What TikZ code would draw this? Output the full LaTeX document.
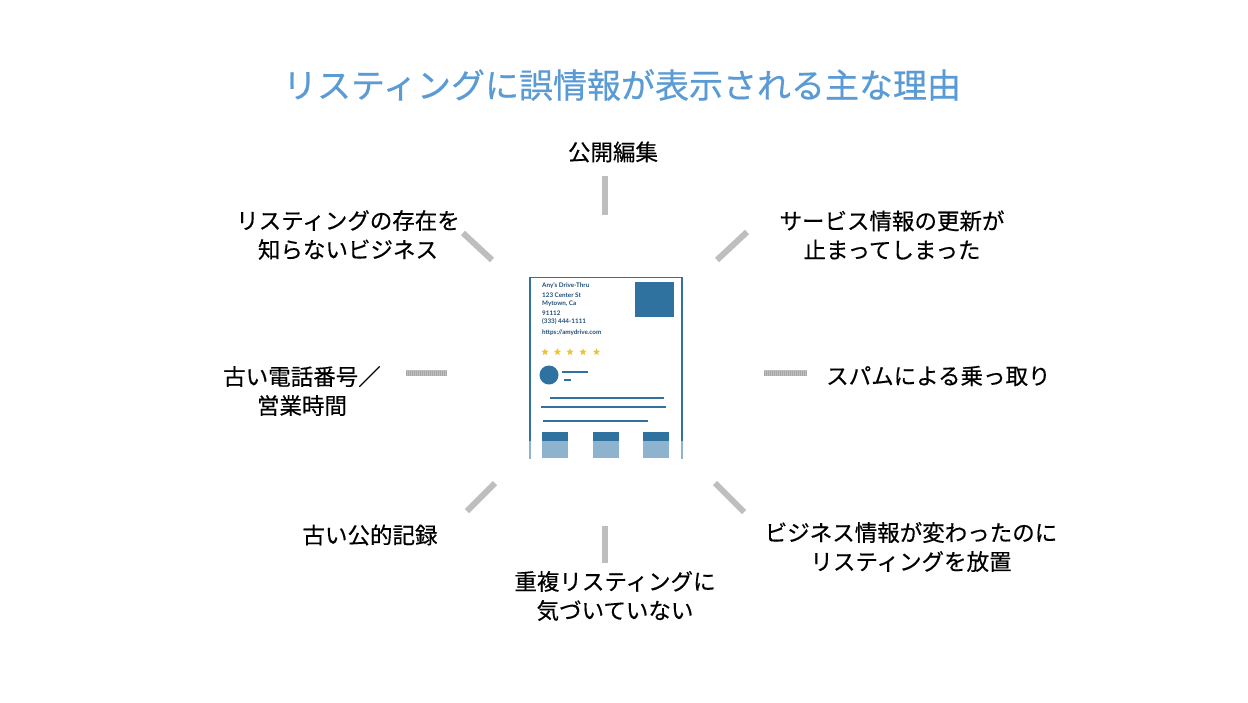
\documentclass[tikz,border=0pt]{standalone}
\usepackage{fontspec}
\setmainfont{Lato}
\newfontfamily\jp[FakeBold=0.35]{Noto Sans CJK JP}
\newfontfamily\jptitle[FakeBold=0.5]{Noto Sans CJK JP}
\usetikzlibrary{shapes.geometric}
\definecolor{titleblue}{HTML}{5B9BD5}
\definecolor{cardblue}{HTML}{2F72A0}
\definecolor{cardlight}{HTML}{8DB3CF}
\definecolor{cardtext}{HTML}{1F4E79}
\definecolor{stargold}{HTML}{F2C230}
\definecolor{spokegray}{HTML}{BEBEBE}
\definecolor{spokedark}{HTML}{A6A6A6}
\begin{document}
\begin{tikzpicture}[x=1pt,y=-1pt,
  lbl/.style={font=\jp\fontsize{22.5}{29}\selectfont, align=center, text=black, inner sep=0pt},
  spoke/.style={draw=spokegray, line width=6pt},
  hspoke/.style={draw=spokegray, line width=6pt},
  hatch/.style={draw=spokedark, line width=5pt, dash pattern=on 1pt off 1pt},
  ctext/.style={font=\bfseries\fontsize{6.3}{7}\selectfont, text=cardtext, anchor=west, inner sep=0pt},
  cline/.style={draw=cardblue, line width=1.4pt},
  cstar/.style={star, star points=5, star point ratio=2.3, fill=stargold, draw=none, minimum size=7.5pt, inner sep=0pt}]
\useasboundingbox[fill=white] (0,0) rectangle (1248,702);

% title
\node[font=\jptitle\fontsize{34}{40}\selectfont, text=titleblue, inner sep=0pt] (title) at (622,85) {リスティングに誤情報が表示される主な理由};

% card
\draw[cardblue, line width=1pt] (530,277) -- (682,277);
\draw[cardblue, line width=1.5pt] (530,277) -- (530,441);
\draw[cardblue, line width=2.6pt] (682,277) -- (682,441);
\draw[cardlight, line width=1.5pt] (530,441) -- (530,459);
\draw[cardlight, line width=2.6pt] (682,441) -- (682,459);
\node[fill=cardblue, minimum width=39pt, minimum height=35pt, inner sep=0pt] (photo) at (654.5,299.5) {};
\node[ctext] (t1) at (542,286) {Any's Drive-Thru};
\node[ctext] (t2) at (542,295) {123 Center St};
\node[ctext] (t3) at (542,304) {Mytown, Ca};
\node[ctext] (t4) at (542,313) {91112};
\node[ctext] (t5) at (542,322) {(333) 444-1111};
\node[ctext] (t6) at (542,333) {https://amydrive.com};
\foreach \i/\x in {1/545,2/557.5,3/570,4/583,5/596.5}
  \node[cstar] (s\i) at (\x,352) {};
\node[circle, fill=cardblue, minimum size=19pt, inner sep=0pt] (avatar) at (549,375) {};
\draw[cline, line width=1.2pt] (562,372) -- (588,372);
\draw[cline, line width=1.2pt] (564,380) -- (571,380);
\draw[cline] (550,398) -- (664,398);
\draw[cline] (541,407) -- (666,407);
\draw[cline] (543,421) -- (648,421);
\foreach \n/\x in {a/542,b/593,c/643}{
  \fill[cardblue] (\x,432) rectangle ++(26,9);
  \fill[cardlight] (\x,441) rectangle ++(26,17);
}

% spokes
\coordinate (n1) at (605,176); \coordinate (n2) at (605,215);
\coordinate (nw1) at (463,233); \coordinate (nw2) at (492,260);
\coordinate (ne1) at (747,232); \coordinate (ne2) at (717,260);
\coordinate (w1) at (406,373); \coordinate (w2) at (447,373);
\coordinate (e1) at (764,373); \coordinate (e2) at (807,373);
\coordinate (sw1) at (495,483); \coordinate (sw2) at (467,511);
\coordinate (se1) at (715,483); \coordinate (se2) at (744,512);
\coordinate (s1) at (605,526); \coordinate (s2) at (605,563);
\draw[spoke] (n1) -- (n2);
\draw[spoke] (nw1) -- (nw2);
\draw[spoke] (ne1) -- (ne2);
\draw[spoke] (sw1) -- (sw2);
\draw[spoke] (se1) -- (se2);
\draw[spoke] (s1) -- (s2);
\draw[hspoke] (w1) -- (w2);
\draw[hatch] (w1) -- (w2);
\draw[hspoke] (e1) -- (e2);
\draw[hatch] (e1) -- (e2);

% labels
\node[lbl] (top) at (613,152) {公開編集};
\node[lbl] (ul) at (348,235) {リスティングの存在を\\知らないビジネス};
\node[lbl] (ur) at (892,235) {サービス情報の更新が\\止まってしまった};
\node[lbl] (l) at (302,391) {古い電話番号／\\営業時間};
\node[lbl, anchor=west] (r) at (826,376) {スパムによる乗っ取り};
\node[lbl] (ll) at (370,535) {古い公的記録};
\node[lbl] (lr) at (911,547) {ビジネス情報が変わったのに\\リスティングを放置};
\node[lbl] (b) at (615,596) {重複リスティングに\\気づいていない};
\end{tikzpicture}
\end{document}
